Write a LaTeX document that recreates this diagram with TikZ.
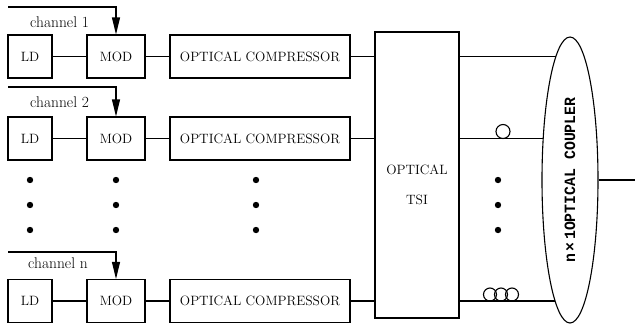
\documentclass[tikz,border=0pt]{standalone}
\usepackage{fontspec}
\usepackage{graphicx}
\newfontfamily\cplfont{Liberation Mono}
\usetikzlibrary{shapes.geometric,arrows.meta}
\tikzset{
  blk/.style={draw, line width=1.1pt, minimum height=43pt, inner sep=0pt, font=\fontsize{13.5}{15}\selectfont},
  wire/.style={line width=1.1pt},
  chan/.style={line width=1.1pt, -{Triangle[length=17pt,width=8pt]}},
  chlabel/.style={anchor=base west, inner sep=0pt, font=\fontsize{15.5}{17}\selectfont},
  loopc/.style={line width=1.1pt},
}
\begin{document}
\begin{tikzpicture}[x=1pt,y=-1pt]
\useasboundingbox (0,0) rectangle (635,325);
% rows
\foreach \r/\yy in {1/56.5,2/138.5,n/301}{
  \node[blk, minimum width=44pt] (ld\r) at (30,\yy) {LD};
  \node[blk, minimum width=58pt] (mod\r) at (116,\yy) {MOD};
  \node[blk, minimum width=180pt] (comp\r) at (260,\yy) {OPTICAL COMPRESSOR};
}
% TSI
\node[draw, line width=1.1pt, minimum width=84pt, minimum height=286pt, inner sep=0pt] (tsi) at (417,175) {};
\node[align=center, font=\fontsize{13.5}{30}\selectfont, inner sep=0pt] (tsitext) at (417,185) {OPTICAL\\TSI};
% coupler
\node[draw, ellipse, line width=1.1pt, minimum width=56pt, minimum height=286pt, inner sep=0pt] (coupler) at (570,180)
  {\rotatebox{90}{\resizebox{165pt}{10.5pt}{\cplfont\bfseries n\,×\,1OPTICAL COUPLER}}};
% channel inputs
\coordinate (c1) at (8,7);
\coordinate (c2) at (8,87);
\coordinate (cn) at (8,252);
\draw[chan] (c1) -| (mod1.north);
\draw[chan] (c2) -| (mod2.north);
\draw[chan] (cn) -| (modn.north);
\node[chlabel] (l1) at (30,27) {channel 1};
\node[chlabel] (l2) at (30,107) {channel 2};
\node[chlabel] (ln) at (28,268) {channel n};
% connections
\foreach \r in {1,2,n}{
  \draw[wire] (ld\r) -- (mod\r);
  \draw[wire] (mod\r) -- (comp\r);
  \draw[wire] (comp\r.east) -- (tsi.west |- comp\r.east);
}
\coordinate (e1) at (555.7,56.5);
\coordinate (e2) at (543.2,138.5);
\coordinate (en) at (555.1,301);
\draw[wire] (tsi.east |- comp1.east) -- (e1);
\draw[wire] (tsi.east |- comp2.east) -- (e2);
\draw[wire] (tsi.east |- compn.east) -- (en);
\coordinate (out) at (635,180);
\draw[wire] (coupler.east) -- (out);
% fibre loops
\draw[loopc] (503,131.5) circle (7);
\draw[loopc] (490,294.5) circle (6.5);
\draw[loopc] (501,294.5) circle (6.5);
\draw[loopc] (512,294.5) circle (6.5);
% dots
\foreach \xx in {30,116,256,498}{
  \foreach \yy in {180,205,230}{
    \fill (\xx,\yy) circle (3.2);
  }
}
\end{tikzpicture}
\end{document}
